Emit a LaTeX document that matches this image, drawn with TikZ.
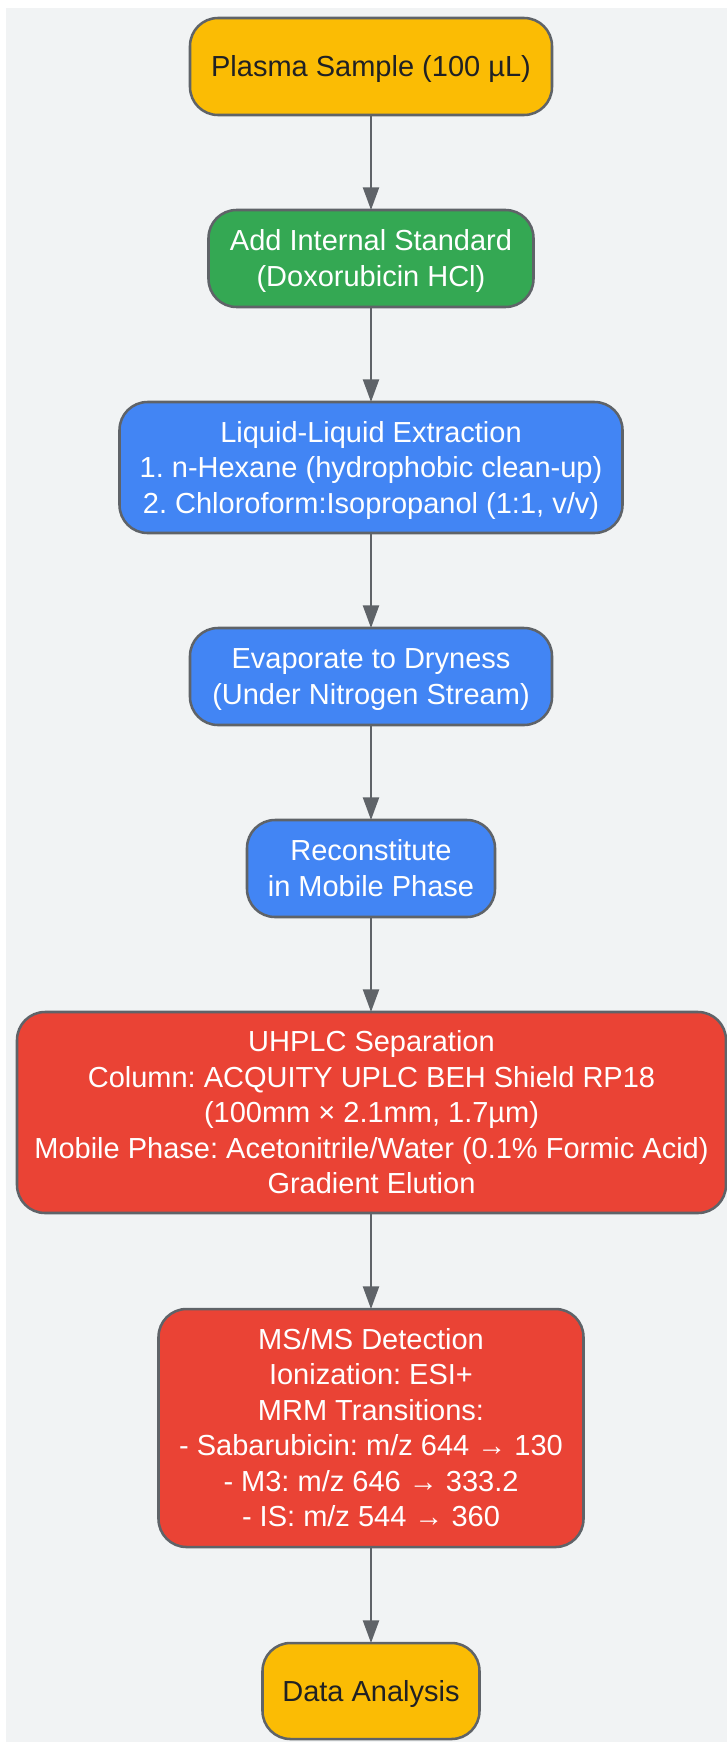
\documentclass[tikz,border=0pt]{standalone}
\usepackage{fontspec}
\setmainfont{Liberation Sans}
\usetikzlibrary{arrows.meta}
\definecolor{bg}{HTML}{F1F3F4}
\definecolor{yel}{HTML}{FBBC04}
\definecolor{grn}{HTML}{34A853}
\definecolor{blu}{HTML}{4285F4}
\definecolor{rd}{HTML}{EA4335}
\definecolor{edgec}{HTML}{5F6368}
\definecolor{ink}{HTML}{202124}
\newcommand\boxtext[1]{\raisebox{-2.2pt}[\height][\depth]{\begin{tabular}{@{}c@{}}#1\end{tabular}}}
\begin{document}
\begin{tikzpicture}[x=0.75pt,y=-0.75pt,
  box/.style={draw=edgec,line width=1.9pt,rounded corners=21pt,inner sep=0pt,outer sep=0pt,
    font=\fontsize{21.75}{26.6}\selectfont\frenchspacing,text=white},
  arr/.style={draw=edgec,line width=1.7pt,-{Triangle[width=12pt,length=17pt]}}]
\useasboundingbox (0,0) rectangle (727,1742);
\fill[bg] (6,8) rectangle (727,1742);
\node[box,fill=yel,text=ink,minimum width=271.5pt,minimum height=72.75pt] (plasma) at (371,66.5) {\boxtext{Plasma Sample (100 µL)}};
\node[box,fill=grn,minimum width=243.75pt,minimum height=72.75pt] (addis) at (371,258.5) {\boxtext{Add Internal Standard\\(Doxorubicin HCl)}};
\node[box,fill=blu,minimum width=377.25pt,minimum height=98.25pt] (lle) at (371,467.5) {\boxtext{Liquid-Liquid Extraction\\1. n-Hexane (hydrophobic clean-up)\\2. Chloroform:Isopropanol (1:1, v/v)}};
\node[box,fill=blu,minimum width=271.5pt,minimum height=72.75pt] (evap) at (371,676.5) {\boxtext{Evaporate to Dryness\\(Under Nitrogen Stream)}};
\node[box,fill=blu,minimum width=186pt,minimum height=72.75pt] (recon) at (371,868.5) {\boxtext{Reconstitute\\in Mobile Phase}};
\node[box,fill=rd,minimum width=531.75pt,minimum height=150.75pt] (uhplc) at (371.5,1112.5) {\boxtext{UHPLC Separation\\Column: ACQUITY UPLC BEH Shield RP18\\(100mm × 2.1mm, 1.7µm)\\Mobile Phase: Acetonitrile/Water (0.1\% Formic Acid)\\Gradient Elution}};
\node[box,fill=rd,minimum width=318.75pt,minimum height=178.5pt] (ms) at (371,1428) {\boxtext{MS/MS Detection\\Ionization: ESI+\\MRM Transitions:\\- Sabarubicin: m/z 644 → 130\\- M3: m/z 646 → 333.2\\- IS: m/z 544 → 360}};
\node[box,fill=yel,text=ink,minimum width=162.75pt,minimum height=72pt] (data) at (371,1691) {\boxtext{Data Analysis}};
\draw[arr] (plasma) -- (addis);
\draw[arr] (addis) -- (lle);
\draw[arr] (lle) -- (evap);
\draw[arr] (evap) -- (recon);
\draw[arr] (recon.south) -- (recon.south |- uhplc.north);
\draw[arr] (uhplc.south -| ms.south) -- (ms.north);
\draw[arr] (ms) -- (data);
\end{tikzpicture}
\end{document}
